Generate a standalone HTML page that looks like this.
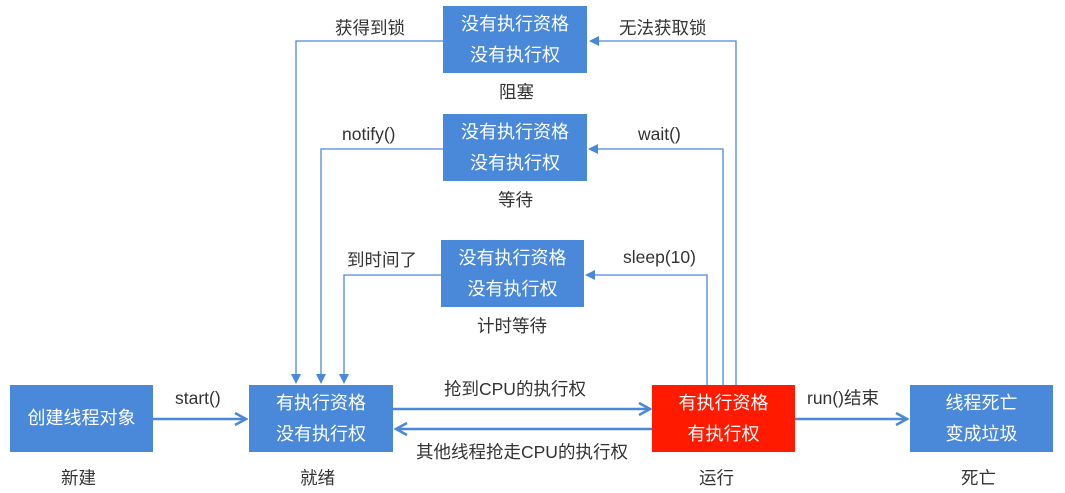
<!DOCTYPE html>
<html><head><meta charset="utf-8"><style>
body{margin:0;width:1065px;height:493px;background:#fff;overflow:hidden;position:relative;font-family:"Liberation Sans","Noto Sans CJK SC",sans-serif;}
.b{position:absolute;background:#4a89d9;color:#fff;font-size:18px;text-align:center;display:flex;flex-direction:column;justify-content:center;line-height:31px;}
.t{position:absolute;font-size:17.5px;color:#333;white-space:nowrap;}
svg{position:absolute;left:0;top:0;}
</style></head><body>
<svg width="1065" height="493">
<defs><marker id="a" markerWidth="10" markerHeight="10" refX="9" refY="5" orient="auto" markerUnits="userSpaceOnUse"><path d="M0,0 L10,5 L0,10 Z" fill="#4a89d9"/></marker>
<marker id="c" markerWidth="14" markerHeight="14" refX="12" refY="7" orient="auto" markerUnits="userSpaceOnUse"><path d="M1,1 L12,7 L1,13" fill="none" stroke="#4a89d9" stroke-width="2.5"/></marker></defs>
<g stroke="#4a89d9" stroke-width="1.3" fill="none">
<polyline points="443,41 296,41 296,383" marker-end="url(#a)"/>
<polyline points="736,385 736,41 590,41" marker-end="url(#a)"/>
<polyline points="443,149 321,149 321,383" marker-end="url(#a)"/>
<polyline points="723,385 723,149 589,149" marker-end="url(#a)"/>
<polyline points="441,275 344,275 344,383" marker-end="url(#a)"/>
<polyline points="707,385 707,275 586,275" marker-end="url(#a)"/>
</g>
<g stroke="#4a89d9" stroke-width="2.5" fill="none">
<line x1="153" y1="419" x2="246" y2="419" marker-end="url(#c)"/>
<line x1="393" y1="409" x2="650" y2="409" marker-end="url(#c)"/>
<line x1="652" y1="429" x2="396" y2="429" marker-end="url(#c)"/>
<line x1="795" y1="419" x2="907" y2="419" marker-end="url(#c)"/>
</g>
</svg>
<div class="b" style="left:443px;top:6px;width:144px;height:67px">没有执行资格<br>没有执行权</div>
<div class="b" style="left:443px;top:114px;width:144px;height:67px">没有执行资格<br>没有执行权</div>
<div class="b" style="left:441px;top:240px;width:143px;height:67px">没有执行资格<br>没有执行权</div>
<div class="b" style="left:10px;top:385px;width:143px;height:67px">创建线程对象</div>
<div class="b" style="left:249px;top:385px;width:144px;height:67px">有执行资格<br>没有执行权</div>
<div class="b" style="left:652px;top:385px;width:143px;height:67px;background:#ff1a00">有执行资格<br>有执行权</div>
<div class="b" style="left:910px;top:385px;width:143px;height:67px">线程死亡<br>变成垃圾</div>
<div class="t" style="left:335px;top:15px">获得到锁</div>
<div class="t" style="left:619px;top:15px">无法获取锁</div>
<div class="t" style="left:499px;top:79px">阻塞</div>
<div class="t" style="left:342px;top:124px">notify()</div>
<div class="t" style="left:638px;top:124px">wait()</div>
<div class="t" style="left:498px;top:187px">等待</div>
<div class="t" style="left:347px;top:247px">到时间了</div>
<div class="t" style="left:623px;top:247px">sleep(10)</div>
<div class="t" style="left:477px;top:313px">计时等待</div>
<div class="t" style="left:175px;top:388px">start()</div>
<div class="t" style="left:444px;top:376px">抢到CPU的执行权</div>
<div class="t" style="left:416px;top:439px">其他线程抢走CPU的执行权</div>
<div class="t" style="left:807px;top:385px">run()结束</div>
<div class="t" style="left:61px;top:465px">新建</div>
<div class="t" style="left:300px;top:465px">就绪</div>
<div class="t" style="left:699px;top:465px">运行</div>
<div class="t" style="left:961px;top:465px">死亡</div>
</body></html>
